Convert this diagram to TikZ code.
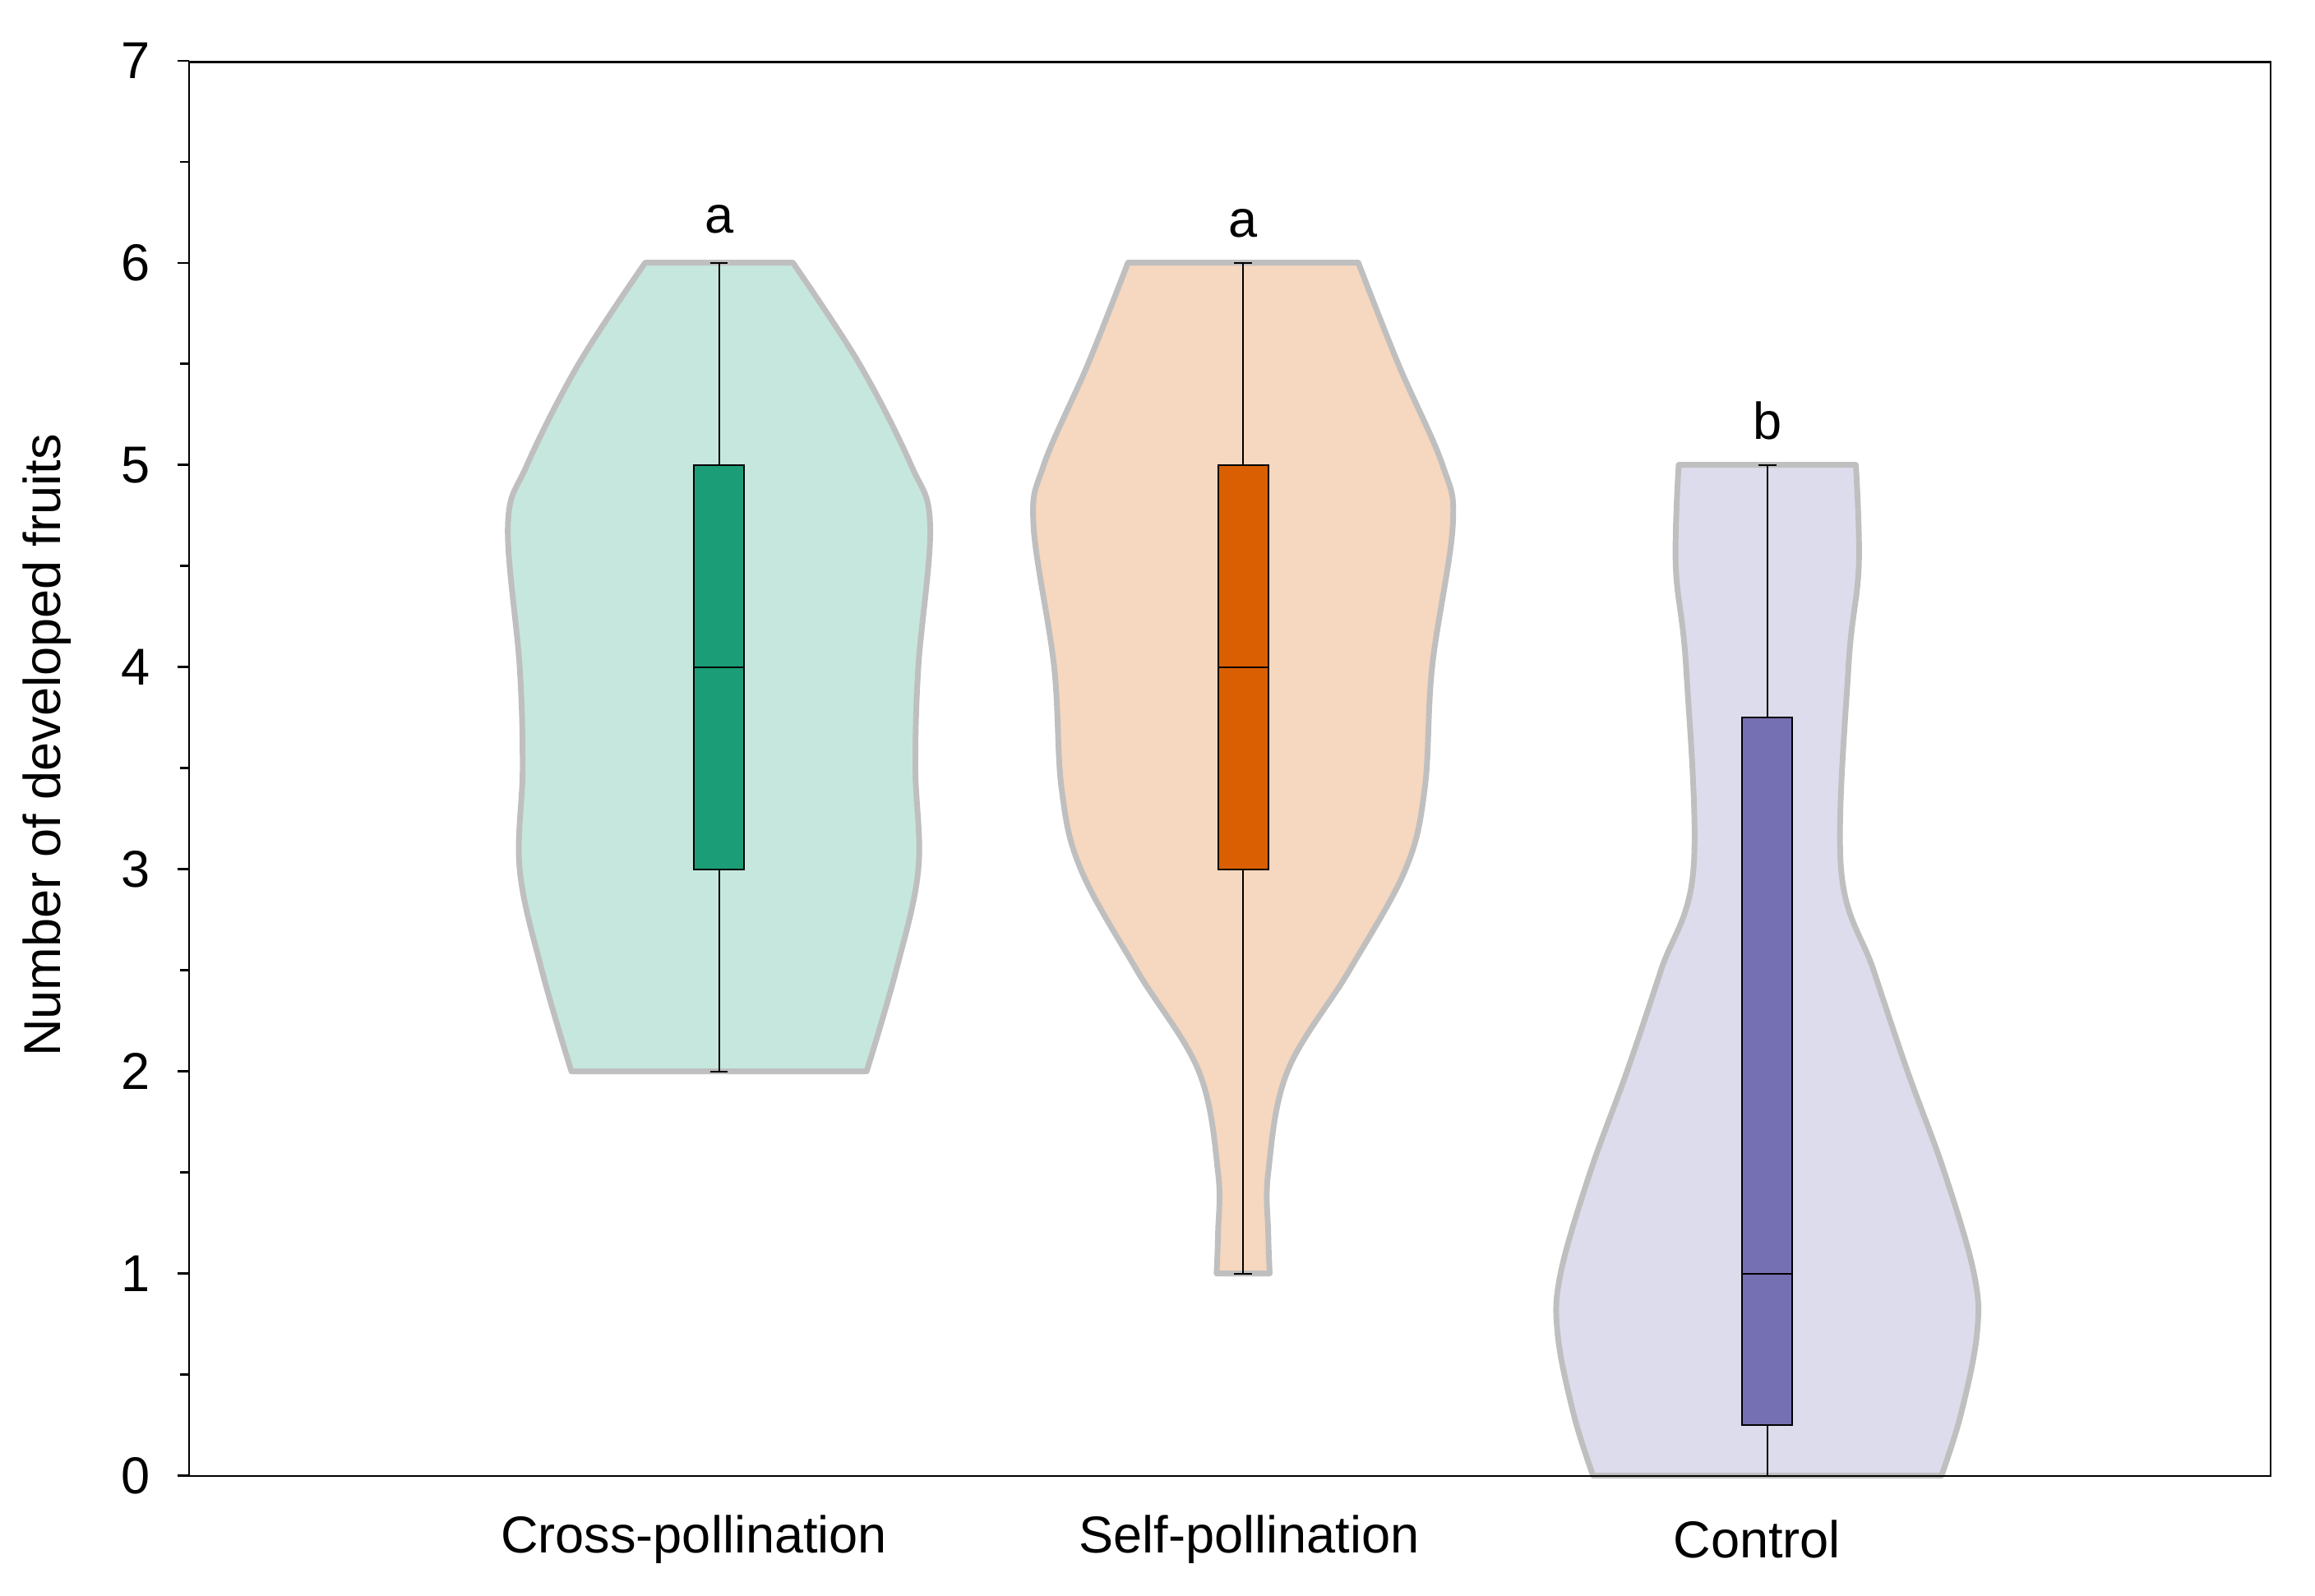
\documentclass[tikz,border=0pt]{standalone}
\usepackage{fontspec}
\setmainfont{Liberation Sans}
\begin{document}
\begin{tikzpicture}[x=0.02cm,y=-0.02cm,
  vio/.style={draw=black!25,line width=2.2pt,line join=round},
  bx/.style={draw=black,line width=0.6pt},
  lab/.style={font=\fontsize{20}{24}\selectfont}]
\useasboundingbox (0,0) rectangle (1568,1081);
\definecolor{cf}{HTML}{C6E7DE}\definecolor{cb}{HTML}{1B9E77}
\definecolor{sf}{HTML}{F6D7BF}\definecolor{sb}{HTML}{D95F02}
\definecolor{kf}{HTML}{DCDCEC}\definecolor{kb}{HTML}{7570B3}
\begin{scope}[yshift=-20cm,x=0.02cm,y=2.74cm]
% cross violin
\path[vio,fill=cf] plot[smooth,tension=0.6] coordinates{(437,6)(392,5.5)(357,5)(344,4.7)(352,4)(354,3.5)(352,3)(367,2.5)(387,2)} -- plot[smooth,tension=0.6] coordinates{(587,2)(607,2.5)(622,3)(620,3.5)(622,4)(630,4.7)(617,5)(582,5.5)(537,6)} -- cycle;
% self violin
\path[vio,fill=sf] plot[smooth,tension=0.6] coordinates{(764,6)(737,5.5)(707,5)(700,4.7)(714,4)(719,3.4)(732,3)(770,2.5)(812,2)(825,1.5)(825,1.2)(824,1)} -- plot[smooth,tension=0.6] coordinates{(860,1)(859,1.2)(859,1.5)(872,2)(914,2.5)(952,3)(965,3.4)(970,4)(984,4.7)(977,5)(947,5.5)(920,6)} -- cycle;
% control violin
\path[vio,fill=kf] plot[smooth,tension=0.6] coordinates{(1137,5)(1135,4.5)(1142,4)(1147,3)(1125,2.5)(1102,2)(1077,1.5)(1057,1)(1055,0.7)(1066,0.3)(1079,0)} -- plot[smooth,tension=0.6] coordinates{(1315,0)(1328,0.3)(1339,0.7)(1337,1)(1317,1.5)(1292,2)(1269,2.5)(1247,3)(1252,4)(1259,4.5)(1257,5)} -- cycle;
% boxes
\foreach \c/\lo/\qa/\me/\qb/\hi/\col in {487/2/3/4/5/6/cb, 842/1/3/4/5/6/sb, 1197/0/0.25/1/3.75/5/kb}{
  \draw[bx] (\c,\lo) -- (\c,\qa) (\c,\qb) -- (\c,\hi);
  \draw[bx] (\c-6,\lo) -- (\c+6,\lo) (\c-6,\hi) -- (\c+6,\hi);
  \draw[bx,fill=\col] (\c-17,\qa) rectangle (\c+17,\qb);
  \draw[bx] (\c-17,\me) -- (\c+17,\me);
}
% ticks
\foreach \v in {0,...,7}{\draw[line width=0.7pt] (120,\v) -- (128,\v); \node[lab,anchor=east] at (108,\v) {\v};}
\foreach \v in {0.5,1.5,...,6.5}{\draw[line width=0.7pt] (122,\v) -- (128,\v);}
\node[lab,anchor=south] at (487,6.1) {a};
\node[lab,anchor=south] at (842,6.08) {a};
\node[lab,anchor=south] at (1197,5.08) {b};
\end{scope}
\draw[line width=0.8pt] (128,42) rectangle (1538,1000);
\node[lab] at (470,1043) {Cross-pollination};
\node[lab] at (846,1043) {Self-pollination};
\node[lab] at (1190,1043) {Control};
\node[lab,rotate=90] at (32,505) {Number of developed fruits};
\end{tikzpicture}
\end{document}
